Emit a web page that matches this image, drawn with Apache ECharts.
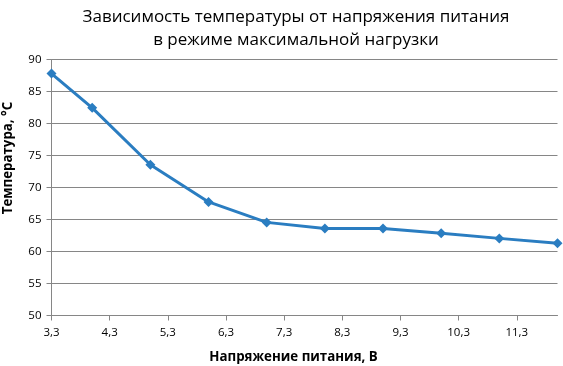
<!DOCTYPE html>
<html><head><meta charset="utf-8">
<script src="https://cdn.jsdelivr.net/npm/echarts@6/dist/echarts.min.js"></script>
<style>html,body{margin:0;padding:0;background:#fff}#c{width:563px;height:366px}</style>
</head><body><div id="c"></div>
<script>
const voltages = [3.3, 4, 5, 6, 7, 8, 9, 10, 11, 12];
const temperatures = [87.8, 82.45, 73.55, 67.75, 64.55, 63.6, 63.6, 62.85, 62.05, 61.3];
const xTicks = [3.3, 4.3, 5.3, 6.3, 7.3, 8.3, 9.3, 10.3, 11.3];
const titleText = 'Зависимость температуры от напряжения питания\nв режиме максимальной нагрузки';
const xTitle = 'Напряжение питания, В';
const yTitle = 'Температура, °С';

const FONT = 'Open Sans';
const chart = echarts.init(document.getElementById('c'), null, {renderer: 'canvas'});
chart.setOption({
  animation: false,
  backgroundColor: '#fff',
  title: {
    text: titleText, left: 291, top: 1, textAlign: 'center',
    textStyle: {fontFamily: FONT, fontSize: 17, fontWeight: 'normal', color: '#000', lineHeight: 23}
  },
  grid: {left: 51.5, right: 5.5, top: 59.5, bottom: 50.5, containLabel: false},
  xAxis: {
    type: 'value', min: 3.3, max: 12,
    axisLine: {lineStyle: {color: '#868686', width: 1}},
    axisTick: {show: true, length: 5, inside: false, customValues: xTicks, lineStyle: {color: '#868686'}},
    axisLabel: {customValues: xTicks, fontFamily: FONT, fontSize: 11.5, color: '#000', margin: 11,
      formatter: v => v.toFixed(1).replace('.', ',')},
    splitLine: {show: false}
  },
  yAxis: {
    type: 'value', min: 50, max: 90, interval: 5,
    axisLine: {show: true, lineStyle: {color: '#868686', width: 1}},
    axisTick: {show: true, length: 5, lineStyle: {color: '#868686'}},
    axisLabel: {fontFamily: FONT, fontSize: 11.5, color: '#000', margin: 10},
    splitLine: {show: true, lineStyle: {color: '#868686', width: 1}}
  },
  graphic: [
    {type: 'text', x: 293.5, y: 357, style: {text: xTitle, fontFamily: FONT, fontSize: 13.3, fontWeight: 'bold', fill: '#000', textAlign: 'center', textVerticalAlign: 'middle'}},
    {type: 'text', x: 8, y: 158, rotation: Math.PI / 2, style: {text: yTitle, fontFamily: FONT, fontSize: 13.3, fontWeight: 'bold', fill: '#000', textAlign: 'center', textVerticalAlign: 'middle'}}
  ],
  series: [{
    type: 'line',
    data: voltages.map((v, i) => [v, temperatures[i]]),
    symbol: 'diamond', symbolSize: 10,
    lineStyle: {color: '#2a7dc1', width: 3},
    itemStyle: {color: '#2a7dc1'},
    clip: false
  }]
});
</script></body></html>
